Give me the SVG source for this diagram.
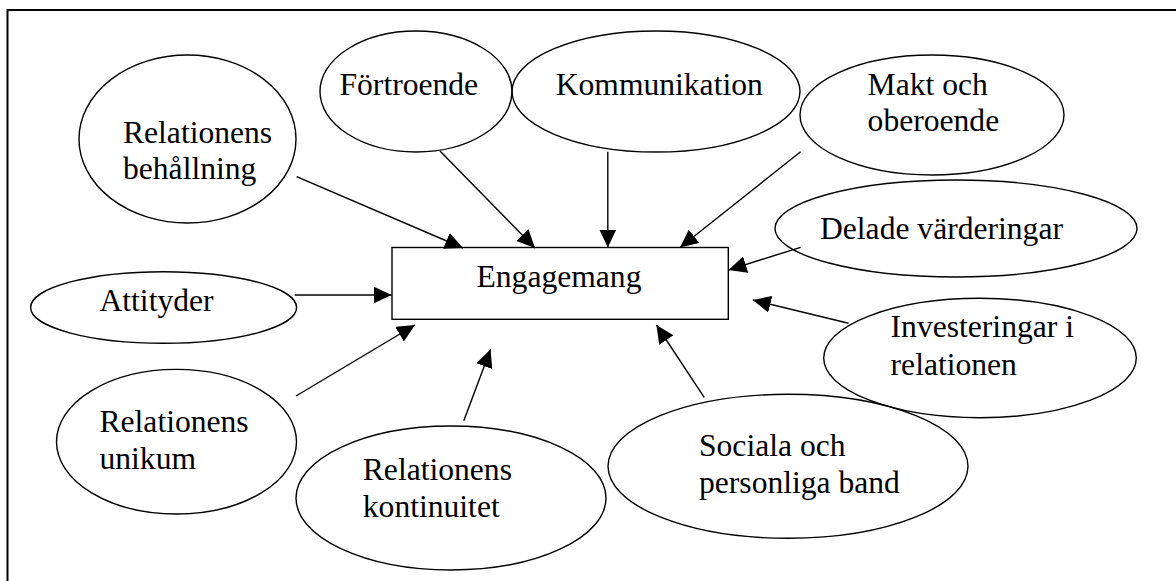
<svg xmlns="http://www.w3.org/2000/svg" width="1176" height="581" viewBox="0 0 1176 581">
<defs>
<style>
.n{fill:none;stroke:#000;stroke-width:1.4}
.t{font-family:"Liberation Serif","Times New Roman",serif;font-size:31.6px;fill:#000}
.c line{stroke:#000;stroke-width:1.4}
</style>
<marker id="ah" markerUnits="userSpaceOnUse" markerWidth="18" markerHeight="17" refX="18" refY="8.5" orient="auto" viewBox="0 0 18 17">
<path d="M0,0 L18,8.5 L0,17 Z" fill="#000"/>
</marker>
</defs>
<rect width="1176" height="581" fill="#fff"/>
<rect x="7.5" y="10" width="1200" height="600" fill="none" stroke="#000" stroke-width="2"/>
<g id="engagemang">
<rect class="n" x="392" y="247.5" width="336.3" height="71.8"/>
<text class="t" x="476.5" y="287">Engagemang</text>
</g>
<g id="behallning">
<ellipse class="n" cx="187.5" cy="139" rx="108.5" ry="84"/>
<text class="t" x="123" y="142.7">Relationens</text>
<text class="t" x="123" y="179">behållning</text>
</g>
<g id="fortroende">
<ellipse class="n" cx="416" cy="91.5" rx="96" ry="60.5"/>
<text class="t" x="339.5" y="95">Förtroende</text>
</g>
<g id="kommunikation">
<ellipse class="n" cx="656" cy="91.5" rx="144" ry="60.5"/>
<text class="t" x="555.7" y="95">Kommunikation</text>
</g>
<g id="makt">
<ellipse class="n" cx="932" cy="115" rx="132" ry="60"/>
<text class="t" x="867.6" y="95">Makt och</text>
<text class="t" x="867.6" y="131">oberoende</text>
</g>
<g id="delade">
<ellipse class="n" cx="956" cy="228.5" rx="181" ry="48.5"/>
<text class="t" x="820" y="239">Delade värderingar</text>
</g>
<g id="attityder">
<ellipse class="n" cx="163.6" cy="307.5" rx="133" ry="35.8"/>
<text class="t" x="99.5" y="310.7">Attityder</text>
</g>
<g id="unikum">
<ellipse class="n" cx="176.5" cy="441.7" rx="120" ry="72.3"/>
<text class="t" x="99.5" y="431.7">Relationens</text>
<text class="t" x="99.5" y="469.3">unikum</text>
</g>
<g id="kontinuitet">
<ellipse class="n" cx="451" cy="498" rx="155" ry="72"/>
<text class="t" x="362.8" y="480">Relationens</text>
<text class="t" x="362.8" y="517.3">kontinuitet</text>
</g>
<g id="sociala">
<ellipse class="n" cx="788" cy="466.3" rx="180" ry="72"/>
<text class="t" x="699" y="455.7">Sociala och</text>
<text class="t" x="699" y="493.3">personliga band</text>
</g>
<g id="investeringar">
<ellipse class="n" cx="980" cy="358" rx="156.3" ry="59.7"/>
<text class="t" x="890.6" y="337">Investeringar i</text>
<text class="t" x="890.6" y="374.5">relationen</text>
</g>
<g id="connectors" class="c">
<line x1="296.6" y1="176.7" x2="463" y2="248" marker-end="url(#ah)"/>
<line x1="440" y1="151" x2="535" y2="248" marker-end="url(#ah)"/>
<line x1="607.8" y1="151.7" x2="607.8" y2="247.5" marker-end="url(#ah)"/>
<line x1="800.6" y1="151.7" x2="680" y2="247.5" marker-end="url(#ah)"/>
<line x1="800.6" y1="247.3" x2="728.5" y2="270" marker-end="url(#ah)"/>
<line x1="294.7" y1="295" x2="391.5" y2="295" marker-end="url(#ah)"/>
<line x1="296" y1="396" x2="415" y2="325" marker-end="url(#ah)"/>
<line x1="463.8" y1="420.7" x2="490.6" y2="349.3" marker-end="url(#ah)"/>
<line x1="704.2" y1="397.3" x2="656.4" y2="325" marker-end="url(#ah)"/>
<line x1="848.5" y1="323.3" x2="752.8" y2="300" marker-end="url(#ah)"/>
</g>
</svg>
